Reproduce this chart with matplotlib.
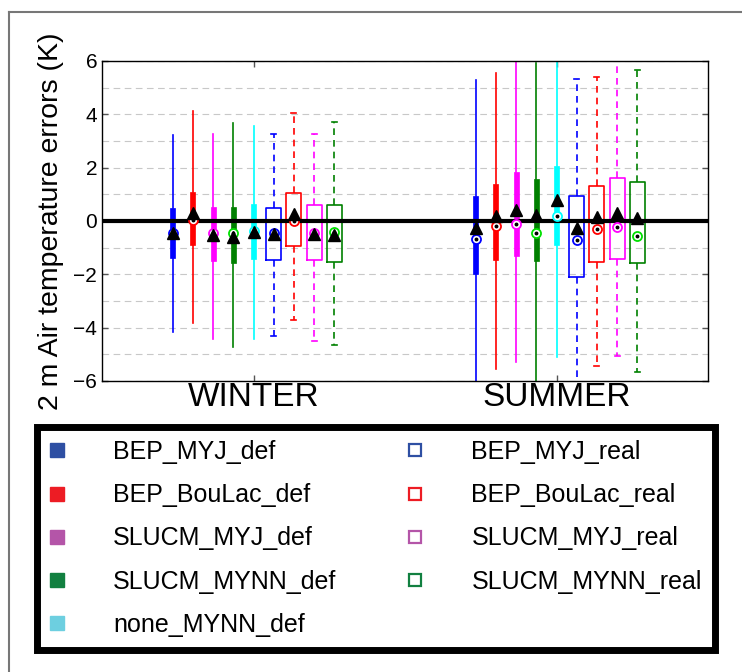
import matplotlib
matplotlib.use("Agg")
import matplotlib.pyplot as plt
from matplotlib.lines import Line2D
from matplotlib.ticker import MultipleLocator

plt.rcParams['font.family'] = ['Liberation Sans', 'DejaVu Sans']

# --- data (K) ---
seasons = ['WINTER', 'SUMMER']
def_names = ['BEP_MYJ_def', 'BEP_BouLac_def', 'SLUCM_MYJ_def', 'SLUCM_MYNN_def', 'none_MYNN_def']
real_names = ['BEP_MYJ_real', 'BEP_BouLac_real', 'SLUCM_MYJ_real', 'SLUCM_MYNN_real']

# winter, default runs
w_def_lo = [-4.15, -3.81, -4.41, -4.74, -4.41]
w_def_q1 = [-1.38, -0.90, -1.49, -1.56, -1.41]
w_def_med = [-0.45, 0.04, -0.44, -0.46, -0.38]
w_def_mean = [-0.44, 0.29, -0.53, -0.59, -0.40]
w_def_q3 = [0.49, 1.10, 0.51, 0.54, 0.63]
w_def_hi = [3.22, 4.14, 3.26, 3.67, 3.56]
# winter, real runs
w_real_lo = [-4.31, -3.71, -4.50, -4.66]
w_real_q1 = [-1.46, -0.94, -1.46, -1.52]
w_real_med = [-0.44, 0.00, -0.44, -0.42]
w_real_mean = [-0.49, 0.25, -0.50, -0.53]
w_real_q3 = [0.47, 1.06, 0.59, 0.59]
w_real_hi = [3.27, 4.06, 3.26, 3.71]
# summer, default runs
s_def_lo = [-6.5, -5.56, -5.30, -6.3, -5.09]
s_def_q1 = [-1.99, -1.46, -1.31, -1.50, -0.91]
s_def_med = [-0.69, -0.19, -0.11, -0.46, 0.19]
s_def_mean = [-0.25, 0.20, 0.41, 0.21, 0.79]
s_def_q3 = [0.94, 1.39, 1.84, 1.56, 2.06]
s_def_hi = [5.29, 5.54, 6.3, 5.91, 6.1]
# summer, real runs
s_real_lo = [-6.4, -5.42, -5.06, -5.67]
s_real_q1 = [-2.09, -1.55, -1.44, -1.59]
s_real_med = [-0.71, -0.29, -0.21, -0.55]
s_real_mean = [-0.28, 0.16, 0.31, 0.12]
s_real_q3 = [0.93, 1.30, 1.62, 1.45]
s_real_hi = [5.34, 5.39, 6.2, 5.65]

# --- styles ---
plot_colors = ['#0000ff', '#ff0000', '#ff00ff', '#008000', '#00ffff']
median_colors = ['#0000ff', '#ff0000', '#ff00ff', '#00e000', '#00ffff']
legend_colors = ['#2e4fa3', '#ed1c24', '#b455a8', '#128040', '#6dcfe0']
step = 0.0667

fig = plt.figure(figsize=(7.42, 6.72), dpi=100)
ax = fig.add_axes([102 / 742, 1 - 381 / 672, 606 / 742, 320 / 672])


def stats(lo, q1, med, mean, q3, hi, i):
    return dict(whislo=lo[i], q1=q1[i], med=med[i], mean=mean[i], q3=q3[i],
                whishi=hi[i], fliers=[])


groups = [
    (1, (w_def_lo, w_def_q1, w_def_med, w_def_mean, w_def_q3, w_def_hi),
     (w_real_lo, w_real_q1, w_real_med, w_real_mean, w_real_q3, w_real_hi)),
    (2, (s_def_lo, s_def_q1, s_def_med, s_def_mean, s_def_q3, s_def_hi),
     (s_real_lo, s_real_q1, s_real_med, s_real_mean, s_real_q3, s_real_hi)),
]

mean_style = dict(marker='^', markerfacecolor='black', markeredgecolor='black',
                  markersize=8, zorder=6)

for center, d, r in groups:
    # default runs: thin filled boxes, solid whiskers
    for i in range(len(def_names)):
        c = plot_colors[i]
        pos = center + (i - 4) * step
        ax.bxp([stats(*d, i)], positions=[pos], widths=0.017, patch_artist=True,
               showcaps=False, showmeans=True, showfliers=False,
               boxprops=dict(facecolor=c, edgecolor=c, linewidth=0.5),
               whiskerprops=dict(color=c, linewidth=1.2),
               medianprops=dict(linewidth=0), meanprops=mean_style, zorder=2)
        ax.plot([pos], [d[2][i]], 'o', mfc='white', mec=median_colors[i], ms=6.5, mew=1.3, zorder=5)
        ax.plot([pos], [d[2][i]], 'o', color='black', ms=1.8, zorder=5)
    # real runs: open boxes, dashed whiskers with caps
    for j in range(len(real_names)):
        c = plot_colors[j]
        pos = center + (j + 1) * step
        ax.bxp([stats(*r, j)], positions=[pos], widths=0.05, capwidths=0.017,
               showmeans=True, showfliers=False,
               boxprops=dict(color=c, linewidth=1.2),
               whiskerprops=dict(color=c, linewidth=1.2, linestyle=(0, (4, 3))),
               capprops=dict(color=c, linewidth=1.2),
               medianprops=dict(linewidth=0), meanprops=mean_style, zorder=2)
        ax.plot([pos], [r[2][j]], 'o', mfc='white', mec=median_colors[j], ms=6.5, mew=1.3, zorder=5)
        ax.plot([pos], [r[2][j]], 'o', color='black', ms=1.8, zorder=5)

ax.axhline(0, color='black', linewidth=3, zorder=4)

ax.set_xlim(0.5, 2.5)
ax.set_ylim(-6, 6)
ax.set_xticks([1, 2])
ax.set_xticklabels(seasons, fontsize=24)
ax.set_yticks(range(-6, 7, 2))
ax.yaxis.set_minor_locator(MultipleLocator(1))
ax.tick_params(axis='y', which='major', direction='in', length=4.5, width=1,
               color='#555555', labelsize=15, pad=3.5, right=True)
ax.tick_params(axis='y', which='minor', length=0)
ax.tick_params(axis='x', direction='in', length=4.5, width=1, color='#555555',
               pad=1, top=True)
ax.grid(True, axis='y', which='both', color='#c8c8c8', linestyle=(0, (6, 4)), linewidth=0.8)
ax.set_axisbelow(True)
for sp in ax.spines.values():
    sp.set_linewidth(1)

ax.set_ylabel('2 m Air temperature errors (K)', fontsize=20.5)
ax.yaxis.set_label_coords(-0.063, 0.5)

# legend
handles = [Line2D([], [], linestyle='none', marker='s', markersize=10,
                  markerfacecolor=legend_colors[i], markeredgecolor=legend_colors[i])
           for i in range(len(def_names))]
handles += [Line2D([], [], linestyle='none', marker='s', markersize=8.5,
                   markerfacecolor='white', markeredgecolor=legend_colors[j], markeredgewidth=1.6)
            for j in range(len(real_names))]
leg = fig.legend(handles, def_names + real_names, ncol=2, fontsize=18,
                 loc='upper left', bbox_to_anchor=(37 / 742, 1 - 427 / 672),
                 frameon=True, fancybox=False, framealpha=1, borderpad=0.52,
                 handlelength=0.56, handletextpad=1.96, columnspacing=2.88,
                 labelspacing=0.77, borderaxespad=0)
leg.get_frame().set_edgecolor('black')
leg.get_frame().set_linewidth(5)

# outer frame lines of the original panel
fig.add_artist(Line2D([9 / 742, 9 / 742], [0, 1 - 12 / 672], transform=fig.transFigure,
                      color='#777777', linewidth=1.5))
fig.add_artist(Line2D([9 / 742, 1], [1 - 12 / 672, 1 - 12 / 672], transform=fig.transFigure,
                      color='#777777', linewidth=1.5))

fig.savefig('out.png', dpi=100)
